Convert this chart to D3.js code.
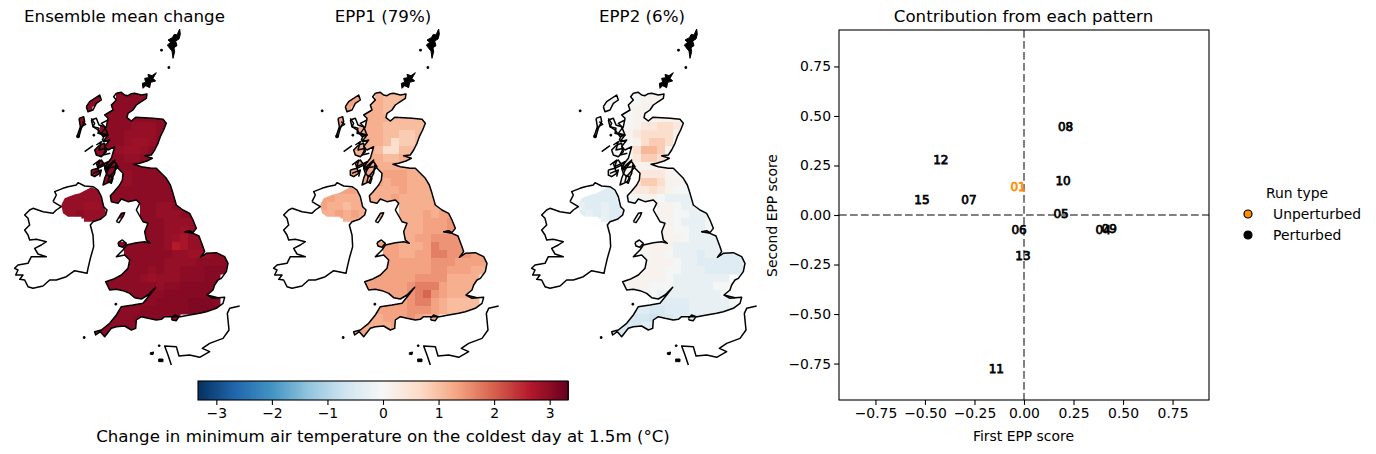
<!DOCTYPE html>
<html><head><meta charset="utf-8">
<script src="https://cdn.jsdelivr.net/npm/d3@7"></script>
<style>
html,body{margin:0;padding:0;background:#fff}
svg{display:block}
text{font-family:"DejaVu Sans",sans-serif;fill:#000}
</style></head><body>
<script>
// ---- categories and titles
const panelTitles = ["Ensemble mean change","EPP1 (79%)","EPP2 (6%)"];
const runs = ["01","04","05","06","07","08","09","10","11","12","13","15"];
const firstScore  = [-0.03,0.40,0.187,-0.025,-0.278,0.21,0.43,0.197,-0.14,-0.42,-0.005,-0.515];
const secondScore = [0.14,-0.076,0.005,-0.076,0.076,0.444,-0.07,0.172,-0.778,0.278,-0.207,0.076];
const runTypes = ["Unperturbed","Perturbed"];
const scoreTicks = [-0.75,-0.5,-0.25,0,0.25,0.5,0.75];
const barTicks = [-3,-2,-1,0,1,2,3];

// ---- grid of change values (coarse read of each map), one digit per cell, looked up in the levels
const levelsMean = [2.65,2.75,2.85,2.92,3.0,3.05,3.12];
const levelsEpp1 = [0.6,0.85,1.05,1.2,1.35,1.5,1.7,1.95];
const levelsEpp2 = [-0.7,-0.55,-0.4,-0.25,-0.05,0.12,0.35,0.6,0.85,1.1];
const gridMean = ["...44..4544...........","...44.44444...........","..44..4444............","..44.444444444........","..44.444433344........","..44444433334.........","...4.444322344........","...4444322344.........","...444443344..........","...4444444444.........","....4444344444........","....44433444444.......",".33333444444444444....","333333444444444.......","333223.4..44334443....","334333.4..44333444....","...33.....4443333344..","..........4443323344..","..........44432133444.",".......4444443013344..","........44444433223444","........44444333344444",".......444434334445555",".....444443233344455..",".....4444444344555555.",".......4444445555555..",".......4444455556665..","......444455555566665.",".....4444555544.......","....44444454..........","....444..............."];
const gridEpp1 = ["...44..3222...........","...44.33222...........","..44..3322............","..44.333322222........","..45.333222222........","..44433322112.........","...4.333201122........","...4333200222.........","...443332233..........","...4443333333.........","....4443444333........","....44443443333.......",".44444333343333333....","443333333433333.......","433233.4..33333344....","334343.4..33343444....","...33.....3334445545..","..........33344455555.","..........33445555544.",".......4443334655554..","........44334466555443","........44444455544443",".......444444455444333",".....444444455553333..",".....4444445666433333.",".......4444567543333..",".......4444566432222..","......444445554322222.",".....4334445433.......","....43333444..........","....444..............."];
const gridEpp2 = ["...44..4555...........","...44.44555...........","..44..4555............","..44.445555555........","..44.445667765........","..44445677775.........","...4.445788755........","...4445799855.........","...444568875..........","...4455555555.........","....4455666544........","....44578875544.......",".22222566765443344....","222223445543333.......","322322.4..5543333.....","232322.4..55443334....","...32.....5543334444..","..........55443344....","..........55543333....",".......4555533333333..","........45543332332222","........45554332222222",".......455544333222222",".....55555543333333...",".....4555444333334443.",".......4443333333343..",".......3322222333334..","......222112223333333.",".....11110112222.......","....1111222...........","....111..............."];
const gridOriginEast = 180, gridOriginSouth = 210, gridStep = 24;

// ---- coastlines, map kilometres [east, south], listed per map sheet with the sheet's origin
const sheetA = [219,195], sheetB = [39,480], sheetC = [279,540], sheetD = [309,15];
const onSheet = (s,pts)=>pts.map(p=>[s[0]+p[0],s[1]+p[1]]);
const coastBritain = [
 ...onSheet(sheetA,[[130,25],[145,22],[155,30],[165,32],[175,26],[185,25],[205,30],[222,27],[220,40],[205,50],[190,60],[180,75],[165,85],[162,98],[175,108],[188,97],[215,98],[240,100],[270,103],[280,115],[272,135],[262,155],[255,175],[245,195],[235,210],[215,212],[238,220],[222,228],[200,235],[183,238],[205,245],[235,250],[250,250],[265,265],[280,280],[292,300],[300,325]]),
 ...onSheet(sheetC,[[250,15],[270,30],[290,40],[300,60],[310,85],[300,98],[275,95],[300,100],[318,108],[330,140],[335,155],[322,172],[340,160],[370,158],[395,170],[405,190],[400,215],[385,235],[375,240],[365,255],[360,270],[342,285],[375,293],[395,292],[390,310],[370,325],[340,335],[320,340],[290,345],[262,350],[235,350],[215,350],[205,358],[190,360],[165,355],[145,350],[130,360],[128,385],[115,390],[95,378],[70,380],[55,385],[35,410],[22,395],[8,405],[5,395],[25,390],[50,370],[70,345],[85,320],[120,315],[150,310],[170,285],[188,262],[165,285],[145,297],[125,293],[110,280],[90,272],[70,268],[50,270],[38,245],[60,238],[85,225],[105,205],[110,180],[95,165],[70,170],[90,150],[100,135],[130,128],[155,125],[172,130],[160,120],[155,95],[165,70],[150,65],[130,30],[140,10],[130,0]]),
 ...onSheet(sheetA,[[165,350],[145,342],[135,355],[115,350],[112,332],[122,322],[140,300],[148,285],[150,265],[135,250],[128,240],[125,265],[112,290],[90,300],[95,280],[105,255],[125,225],[108,240],[100,255],[95,245],[115,220],[125,185],[105,195],[95,185],[110,165],[90,170],[105,150],[85,145],[100,125],[105,100],[95,90],[120,75],[115,60],[130,45],[122,35],[130,25]])
];
const coastIreland = onSheet(sheetB,[[120,65],[130,45],[125,35],[150,25],[165,20],[190,15],[195,8],[215,18],[240,20],[255,30],[265,50],[272,80],[282,90],[278,105],[262,118],[240,125],[232,135],[240,165],[242,200],[232,235],[225,265],[222,280],[200,275],[185,272],[160,290],[130,300],[110,300],[90,318],[60,325],[45,320],[35,300],[20,298],[30,285],[8,285],[15,270],[5,265],[15,255],[45,250],[55,230],[100,230],[75,222],[65,205],[85,195],[100,185],[70,178],[50,180],[45,165],[35,150],[50,135],[45,115],[35,105],[50,90],[60,85],[90,95],[120,100],[130,90],[145,80],[120,65]]);
const borderNI = onSheet(sheetB,[[145,75],[155,55],[180,45],[200,40],[235,22],[255,30],[265,50],[275,85],[280,100],[262,118],[235,125],[205,125],[205,110],[165,110],[150,100],[145,75]]);
const islands = [
 onSheet(sheetA,[[40,65],[50,50],[80,30],[85,45],[70,55],[60,75],[45,80],[40,65]]),
 onSheet(sheetA,[[18,100],[32,95],[35,110],[25,130],[18,155],[12,155],[22,125],[18,100]]),
 onSheet(sheetA,[[55,105],[70,100],[78,120],[95,125],[105,150],[90,155],[75,135],[60,125],[55,105]]),
 onSheet(sheetA,[[80,180],[95,175],[100,200],[85,215],[70,210],[65,195],[80,180]]),
 onSheet(sheetA,[[55,255],[75,250],[80,265],[65,275],[55,270],[55,255]]),
 onSheet(sheetA,[[70,235],[85,225],[95,240],[75,250],[70,235]]),
 onSheet(sheetA,[[95,250],[125,230],[135,245],[110,275],[100,265],[95,250]]),
 onSheet(sheetA,[[110,270],[120,280],[115,295],[105,290],[110,270]]),
 onSheet(sheetC,[[70,65],[85,40],[95,38],[90,50],[78,68],[70,65]]),
 onSheet(sheetC,[[75,128],[88,120],[100,130],[90,142],[78,138],[75,128]]),
 onSheet(sheetC,[[235,355],[245,345],[258,350],[250,362],[238,360],[235,355]])
];
const openLines = [
 onSheet(sheetA,[[35,200],[60,182]]),
 onSheet(sheetA,[[55,100],[65,115],[60,125],[78,130],[75,145],[95,150],[88,165],[108,170]]),
 onSheet(sheetA,[[70,180],[85,170],[78,195],[100,190],[90,210],[112,205]]),
 onSheet(sheetA,[[60,240],[80,225],[75,245],[105,230],[95,250],[125,245]]),
 onSheet(sheetA,[[60,265],[85,255],[80,275]]),
 onSheet(sheetA,[[100,130],[85,115],[105,105]]),
 onSheet(sheetA,[[28,110],[38,118],[25,125]]),
 onSheet(sheetC,[[342,285],[360,295],[375,293]]),
 onSheet(sheetC,[[275,95],[290,92],[300,98]]),
 onSheet(sheetC,[[440,318],[410,325],[403,340],[408,390],[390,415],[350,430],[328,445],[350,455],[320,472],[290,465],[258,468],[250,440],[215,438],[225,465],[235,495]])
];
const solidIslands = [
 onSheet(sheetD,[[120,190],[118,175],[128,172],[125,160],[137,158],[135,148],[147,152],[160,143],[150,160],[158,168],[143,172],[140,188],[128,182]]),
 onSheet(sheetD,[[230,12],[222,30],[214,28],[208,38],[195,45],[203,52],[193,60],[200,70],[207,78],[210,100],[215,80],[213,68],[222,62],[218,48],[228,42],[232,28]]),
 onSheet(sheetD,[[173,73],[178,73],[178,78],[173,78]]),onSheet(sheetD,[[195,125],[200,125],[200,130],[195,130]]),
 onSheet(sheetA,[[12,150],[20,150],[18,158],[12,158]]),onSheet(sheetA,[[60,148],[65,148],[65,153],[60,153]]),
 [[187,270],[192,270],[192,275],[187,275]],[[250,950],[255,950],[255,955],[250,955]],
 onSheet(sheetC,[[66,310],[71,310],[71,315],[66,315]]),onSheet(sheetC,[[172,458],[182,456],[180,464],[172,463]]),
 onSheet(sheetC,[[197,477],[210,477],[210,485],[197,485]]),onSheet(sheetC,[[196,435],[201,435],[201,439],[196,439]])
];

// ---- page
const W = 1376, H = 454;
const svg = d3.select("body").append("svg").attr("width",W).attr("height",H);

// colour: RdBu reversed, linear through the 11 class scheme
const stops = d3.schemeRdBu[11].slice().reverse();
const barDomain = [-3.33,3.33];
const colour = d3.scaleLinear()
  .domain(d3.range(11).map(i=>barDomain[0]+i*(barDomain[1]-barDomain[0])/10))
  .range(stops).clamp(true);

// ---- three maps
const grids = [[gridMean,levelsMean],[gridEpp1,levelsEpp1],[gridEpp2,levelsEpp2]];
const panelOffset = [0,259,517];
const titleX = [124.5,383,642];
const defs = svg.append("defs");
grids.forEach(([grid,levels],p)=>{
  const xMap = d3.scaleLinear().domain([0,750]).range([panelOffset[p],panelOffset[p]+250]);
  const yMap = d3.scaleLinear().domain([0,1050]).range([20,370]);
  const line = d3.line().x(d=>xMap(d[0])).y(d=>yMap(d[1]));
  const g = svg.append("g");
  const clipId = "land"+p;
  defs.append("clipPath").attr("id",clipId).selectAll("path")
    .data([coastBritain,borderNI,...islands]).join("path").attr("d",line);
  const cells = [];
  grid.forEach((row,j)=>{ row.split("").forEach((c,i)=>{ if(c!==".") cells.push({i,j,v:levels[+c]}); }); });
  g.append("g").attr("clip-path",`url(#${clipId})`).selectAll("rect").data(cells).join("rect")
    .attr("x",d=>xMap(gridOriginEast+d.i*gridStep))
    .attr("y",d=>yMap(gridOriginSouth+d.j*gridStep))
    .attr("width",xMap(gridStep)-xMap(0)+0.5)
    .attr("height",yMap(gridStep)-yMap(0)+0.5)
    .attr("fill",d=>colour(d.v));
  g.append("g").selectAll("path").data([coastBritain,coastIreland,...islands,...openLines]).join("path")
    .attr("d",line).attr("fill","none").attr("stroke","#000").attr("stroke-width",1.5).attr("stroke-linejoin","round");
  g.append("g").selectAll("path").data(solidIslands).join("path")
    .attr("d",d=>line(d)+"Z").attr("fill","#000").attr("stroke","#000").attr("stroke-width",1);
  svg.append("text").attr("x",titleX[p]).attr("y",22).attr("text-anchor","middle")
    .attr("font-size",16.67).text(panelTitles[p]);
});

// ---- colourbar
const xBar = d3.scaleLinear().domain(barDomain).range([198,568]);
const barSteps = d3.range(256).map(i=>barDomain[0]+(i+0.5)*(barDomain[1]-barDomain[0])/256);
const gBar = svg.append("g");
gBar.selectAll("rect").data(barSteps).join("rect")
  .attr("x",d=>xBar(d)-0.8).attr("y",381).attr("width",2.6).attr("height",19)
  .attr("shape-rendering","crispEdges").attr("fill",d=>colour(d));
gBar.append("rect").attr("x",198).attr("y",381).attr("width",370).attr("height",19).attr("fill","none").attr("stroke","#000").attr("stroke-width",1.1);
const axBar = gBar.append("g").attr("transform","translate(0,400)")
  .call(d3.axisBottom(xBar).tickValues(barTicks).tickFormat(d3.format("d")).tickSize(4.9).tickSizeOuter(0));
axBar.select(".domain").remove();
axBar.selectAll("line").attr("stroke-width",1.1);
axBar.selectAll("text").attr("font-size",13.9).attr("font-family",'"DejaVu Sans"').attr("y",8);
svg.append("text").attr("x",383).attr("y",442).attr("text-anchor","middle").attr("font-size",16.67)
  .text("Change in minimum air temperature on the coldest day at 1.5m (°C)");

// ---- scatter
const xS = d3.scaleLinear().domain([-0.934,0.934]).range([839,1209]);
const yS = d3.scaleLinear().domain([-0.934,0.934]).range([400,30]);
const gS = svg.append("g");
gS.append("line").attr("x1",839).attr("x2",1209).attr("y1",yS(0)).attr("y2",yS(0));
gS.append("line").attr("x1",xS(0)).attr("x2",xS(0)).attr("y1",30).attr("y2",400);
gS.selectAll("line").attr("stroke","#808080").attr("stroke-width",2).attr("stroke-dasharray","7.7,3.3");
gS.append("rect").attr("x",839).attr("y",30).attr("width",370).attr("height",370).attr("fill","none").attr("stroke","#000").attr("stroke-width",1.1);
const axX = gS.append("g").attr("transform","translate(0,400)")
  .call(d3.axisBottom(xS).tickValues(scoreTicks).tickFormat(d3.format(".2f")).tickSize(4.9).tickSizeOuter(0));
const axY = gS.append("g").attr("transform","translate(839,0)")
  .call(d3.axisLeft(yS).tickValues(scoreTicks).tickFormat(d3.format(".2f")).tickSize(4.9).tickSizeOuter(0));
[axX,axY].forEach(a=>{a.select(".domain").remove();a.selectAll("line").attr("stroke-width",1.1);a.selectAll("text").attr("font-size",13.9).attr("font-family",'"DejaVu Sans"');});
axX.selectAll("text").attr("y",8);
axY.selectAll("text").attr("x",-8);
gS.selectAll(".run").data(runs).join("text").attr("class","run")
  .attr("x",(d,i)=>xS(firstScore[i])).attr("y",(d,i)=>yS(secondScore[i]))
  .attr("text-anchor","middle").attr("dominant-baseline","central")
  .attr("font-size",12)
  .style("fill",d=>d==="01"?"#ff8c00":"#000")
  .style("stroke",d=>d==="01"?"#ff8c00":"#000").style("stroke-width",0.75).text(d=>d);
svg.append("text").attr("x",1023.5).attr("y",441).attr("text-anchor","middle").attr("font-size",13.9).text("First EPP score");
svg.append("text").attr("transform","translate(777,215.5) rotate(-90)").attr("text-anchor","middle").attr("font-size",13.9).text("Second EPP score");
svg.append("text").attr("x",1023.5).attr("y",22).attr("text-anchor","middle").attr("font-size",16.67).text("Contribution from each pattern");

// ---- legend
svg.append("text").attr("x",1297).attr("y",198).attr("text-anchor","middle").attr("font-size",13.9).text("Run type");
const yLeg = d3.scalePoint().domain(runTypes).range([214,235]);
const gLeg = svg.append("g");
gLeg.selectAll("circle").data(runTypes).join("circle")
  .attr("cx",1248).attr("cy",d=>yLeg(d)).attr("r",4).attr("stroke","#000").attr("stroke-width",1.2)
  .attr("fill",d=>d==="Unperturbed"?"#ff8c00":"#000");
gLeg.selectAll("text").data(runTypes).join("text").attr("x",1273).attr("y",d=>yLeg(d)+5).attr("font-size",13.9).text(d=>d);
</script>
</body></html>
